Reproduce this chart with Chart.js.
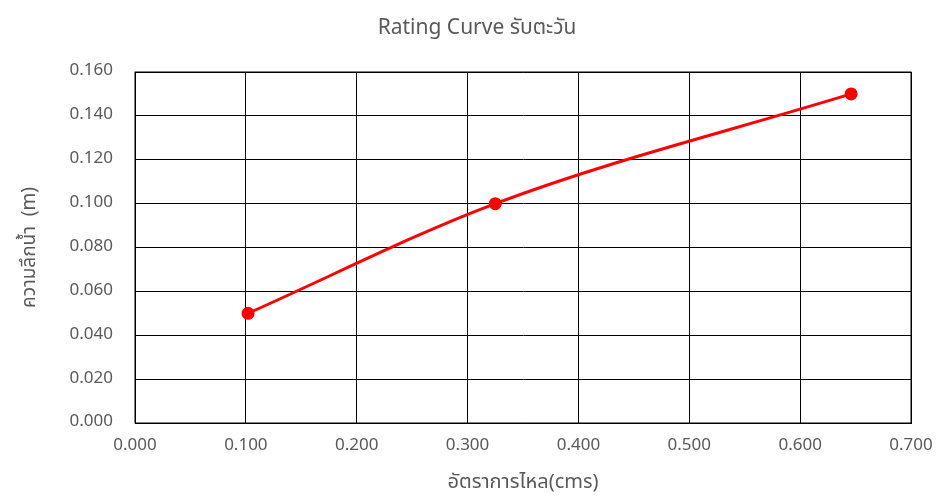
<!DOCTYPE html>
<html>
<head>
<meta charset="utf-8">
<script src="https://cdn.jsdelivr.net/npm/chart.js@4/dist/chart.umd.min.js"></script>
<style>
  html, body { margin: 0; padding: 0; background: #fff; }
  #wrap { width: 939px; height: 497px; }
</style>
</head>
<body>
<div id="wrap"><canvas id="c" width="939" height="497"></canvas></div>
<script>
// Discharge (cms) and water depth (m)
const flowRates = [0.102, 0.325, 0.646];
const depths = [0.050, 0.100, 0.150];
const xTicks = [0, 0.1, 0.2, 0.3, 0.4, 0.5, 0.6, 0.7];
const yTicks = [0, 0.02, 0.04, 0.06, 0.08, 0.10, 0.12, 0.14, 0.16];
const chartTitle = 'Rating Curve รับตะวัน';

const FONT = '"Noto Sans Thai", "Tahoma", "Noto Sans", "DejaVu Sans", sans-serif';
const GREY = '#595959';

const points = flowRates.map((x, i) => ({ x: x, y: depths[i] }));

new Chart(document.getElementById('c'), {
  type: 'scatter',
  data: {
    datasets: [{
      data: points,
      showLine: true,
      borderColor: '#ff0000',
      backgroundColor: '#ff0000',
      borderWidth: 3,
      pointRadius: 5,
      pointHoverRadius: 5,
      tension: 0.4,
      cubicInterpolationMode: 'monotone'
    }]
  },
  options: {
    responsive: false,
    animation: false,
    layout: { padding: { left: 0, right: 28, top: 72, bottom: 0 } },
    plugins: {
      legend: { display: false },
      tooltip: { enabled: false },
      title: { display: false }
    },
    scales: {
      x: {
        type: 'linear',
        min: 0, max: 0.7,
        afterBuildTicks: s => { s.ticks = xTicks.map(v => ({ value: v })); },
        afterFit: s => { s.height = 74; s.paddingLeft = 0; s.paddingRight = 0; },
        ticks: {
          color: GREY,
          font: { family: FONT, size: 17 },
          padding: 13,
          maxRotation: 0,
          callback: v => Number(v).toFixed(3)
        },
        grid: { color: '#000', lineWidth: 1, drawTicks: false },
        border: { color: '#000', width: 1 },
        title: {
          display: true,
          text: 'อัตราการไหล(cms)',
          color: GREY,
          font: { family: FONT, size: 20 },
          padding: { top: 0, bottom: 1 }
        }
      },
      y: {
        type: 'linear',
        min: 0, max: 0.16,
        afterBuildTicks: s => { s.ticks = yTicks.map(v => ({ value: v })); },
        afterFit: s => { s.width = 135; s.paddingTop = 0; s.paddingBottom = 0; },
        ticks: {
          color: GREY,
          font: { family: FONT, size: 17 },
          padding: 22,
          callback: v => Number(v).toFixed(3)
        },
        grid: { color: '#000', lineWidth: 1, drawTicks: false },
        border: { color: '#000', width: 1 },
        title: {
          display: true,
          text: 'ความลึกน้ำ  (m)',
          color: GREY,
          font: { family: FONT, size: 19 },
          padding: { top: 20, bottom: 0 }
        }
      }
    }
  },
  plugins: [{
    id: 'frameAndTitle',
    afterDraw(chart) {
      const a = chart.chartArea, ctx = chart.ctx;
      ctx.save();
      ctx.strokeStyle = '#000';
      ctx.lineWidth = 1;
      ctx.strokeRect(a.left, a.top, a.right - a.left, a.bottom - a.top);
      ctx.fillStyle = GREY;
      ctx.font = '21px ' + FONT;
      ctx.textAlign = 'center';
      ctx.textBaseline = 'middle';
      ctx.fillText(chartTitle, 477, 30);
      ctx.restore();
    }
  }]
});
</script>
</body>
</html>
